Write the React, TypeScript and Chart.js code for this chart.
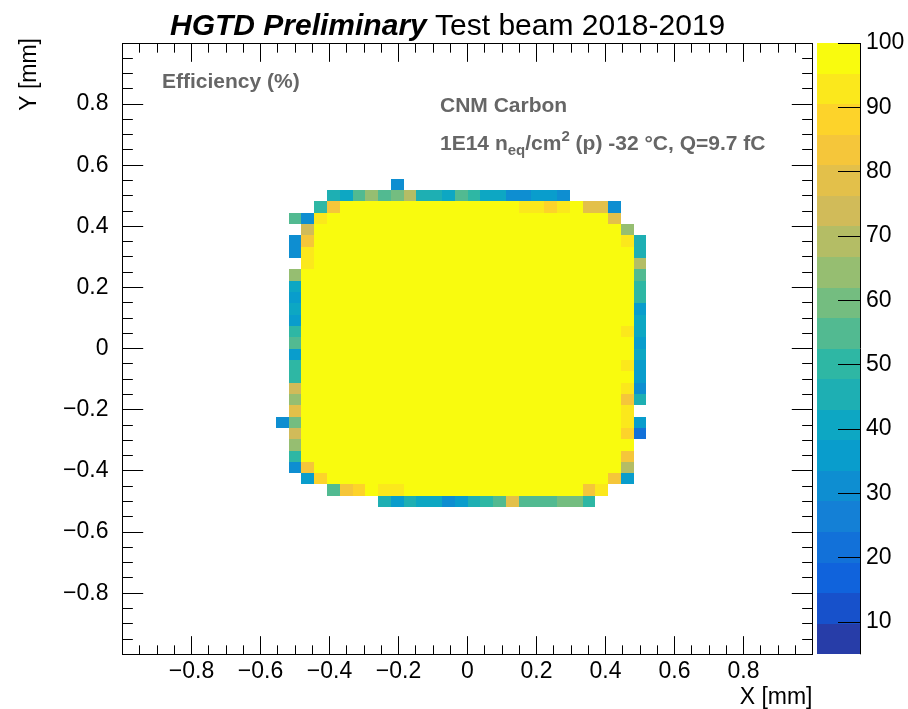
import React, { useEffect, useRef } from 'react';
import { Chart, registerables } from 'chart.js';

Chart.register(...registerables);

const FONT = "'Liberation Sans', Arial, Helvetica, sans-serif";

// ---- axes / binning ----
const AXIS_MIN = -1;
const AXIS_MAX = 1;
const N_BINS = 54; // 54 bins over [-1, 1] mm on both axes
const FIRST_COL_BIN = 12; // bin index of the left-most drawn column
const TOP_ROW_BIN = 41; // bin index of the top-most drawn row
const AXIS_TICK_VALUES = [-0.8, -0.6, -0.4, -0.2, 0, 0.2, 0.4, 0.6, 0.8];

// ---- colour (z) axis ----
const Z_MIN = 5;
const Z_MAX = 100;
const N_CONTOURS = 20;
const Z_TICK_VALUES = [10, 20, 30, 40, 50, 60, 70, 80, 90, 100];

// ---- texts ----
const TITLE_BOLD = 'HGTD Preliminary';
const TITLE_REST = 'Test beam 2018-2019';
const X_TITLE = 'X [mm]';
const Y_TITLE = 'Y [mm]';
const LABEL_EFF = 'Efficiency (%)';
const LABEL_SENSOR = 'CNM Carbon';

// ---- efficiency (%) per bin, rows top (y high) -> bottom, columns left -> right; 0 = empty ----
const EFFICIENCY_ROWS: number[][] = [
  [0,0,0,0,0,0,0,0,0,33,0,0,0,0,0,0,0,0,0,0,0,0,0,0,0,0,0,0,0],
  [0,0,0,0,45,40,55,65,55,60,70,43,43,40,55,48,40,40,33,32,36,36,33,0,0,0,0,0,0],
  [0,0,0,50,83,99,99,99,99,99,99,99,99,99,99,99,99,99,99,92,92,88,92,99,78,78,32,0,0],
  [0,55,32,92,99,99,99,99,99,99,99,99,99,99,99,99,99,99,99,99,99,99,99,99,99,99,78,0,0],
  [0,0,75,99,99,99,99,99,99,99,99,99,99,99,99,99,99,99,99,99,99,99,99,99,99,99,99,65,0],
  [0,32,85,99,99,99,99,99,99,99,99,99,99,99,99,99,99,99,99,99,99,99,99,99,99,99,99,92,43],
  [0,33,92,99,99,99,99,99,99,99,99,99,99,99,99,99,99,99,99,99,99,99,99,99,99,99,99,99,43],
  [0,0,92,99,99,99,99,99,99,99,99,99,99,99,99,99,99,99,99,99,99,99,99,99,99,99,99,99,70],
  [0,65,99,99,99,99,99,99,99,99,99,99,99,99,99,99,99,99,99,99,99,99,99,99,99,99,99,99,55],
  [0,40,99,99,99,99,99,99,99,99,99,99,99,99,99,99,99,99,99,99,99,99,99,99,99,99,99,99,50],
  [0,35,99,99,99,99,99,99,99,99,99,99,99,99,99,99,99,99,99,99,99,99,99,99,99,99,99,99,50],
  [0,42,99,99,99,99,99,99,99,99,99,99,99,99,99,99,99,99,99,99,99,99,99,99,99,99,99,99,36],
  [0,38,99,99,99,99,99,99,99,99,99,99,99,99,99,99,99,99,99,99,99,99,99,99,99,99,99,99,42],
  [0,50,99,99,99,99,99,99,99,99,99,99,99,99,99,99,99,99,99,99,99,99,99,99,99,99,99,92,40],
  [0,57,99,99,99,99,99,99,99,99,99,99,99,99,99,99,99,99,99,99,99,99,99,99,99,99,99,99,35],
  [0,38,99,99,99,99,99,99,99,99,99,99,99,99,99,99,99,99,99,99,99,99,99,99,99,99,99,99,40],
  [0,50,99,99,99,99,99,99,99,99,99,99,99,99,99,99,99,99,99,99,99,99,99,99,99,99,99,92,37],
  [0,50,99,99,99,99,99,99,99,99,99,99,99,99,99,99,99,99,99,99,99,99,99,99,99,99,99,99,37],
  [0,75,99,99,99,99,99,99,99,99,99,99,99,99,99,99,99,99,99,99,99,99,99,99,99,99,99,92,30],
  [0,65,99,99,99,99,99,99,99,99,99,99,99,99,99,99,99,99,99,99,99,99,99,99,99,99,99,85,43],
  [0,80,99,99,99,99,99,99,99,99,99,99,99,99,99,99,99,99,99,99,99,99,99,99,99,99,99,92,0],
  [32,60,99,99,99,99,99,99,99,99,99,99,99,99,99,99,99,99,99,99,99,99,99,99,99,99,99,92,35],
  [0,75,99,99,99,99,99,99,99,99,99,99,99,99,99,99,99,99,99,99,99,99,99,99,99,99,99,90,22],
  [0,65,99,99,99,99,99,99,99,99,99,99,99,99,99,99,99,99,99,99,99,99,99,99,99,99,99,99,0],
  [0,50,99,99,99,99,99,99,99,99,99,99,99,99,99,99,99,99,99,99,99,99,99,99,99,99,99,85,0],
  [0,30,85,99,99,99,99,99,99,99,99,99,99,99,99,99,99,99,99,99,99,99,99,99,99,99,99,70,0],
  [0,0,37,90,99,99,99,99,99,99,99,99,99,99,99,99,99,99,99,99,99,99,99,99,99,99,85,38,0],
  [0,0,0,0,55,85,90,99,93,93,99,99,99,99,99,99,99,99,99,99,99,99,99,99,85,92,0,0,0],
  [0,0,0,0,0,0,0,0,45,35,43,40,40,32,35,45,50,55,80,55,55,55,60,60,50,0,0,0,0],
];

// ---- kBird palette (ROOT palette 57) ----
const BIRD_STOPS = [0.0, 0.125, 0.25, 0.375, 0.5, 0.625, 0.75, 0.875, 1.0];
const BIRD_RED = [0.2082, 0.0592, 0.078, 0.0232, 0.1802, 0.5301, 0.8186, 0.9956, 0.9764];
const BIRD_GREEN = [0.1664, 0.3599, 0.5041, 0.6419, 0.7178, 0.7492, 0.7328, 0.7862, 0.9832];
const BIRD_BLUE = [0.5293, 0.8684, 0.8385, 0.7914, 0.6425, 0.4662, 0.3499, 0.1968, 0.0539];

function birdColor(t: number): string {
  const tt = Math.max(0, Math.min(1, t));
  let s = 1;
  while (s < BIRD_STOPS.length - 1 && BIRD_STOPS[s] < tt) s++;
  const f = (tt - BIRD_STOPS[s - 1]) / (BIRD_STOPS[s] - BIRD_STOPS[s - 1]);
  const mix = (a: number[]) => Math.round(255 * (a[s - 1] + (a[s] - a[s - 1]) * f));
  return `rgb(${mix(BIRD_RED)},${mix(BIRD_GREEN)},${mix(BIRD_BLUE)})`;
}

function contourColor(v: number): string {
  const dz = (Z_MAX - Z_MIN) / N_CONTOURS;
  const k = Math.max(0, Math.min(N_CONTOURS - 1, Math.floor((v - Z_MIN) / dz)));
  const nColors = 255;
  const idx = Math.floor(((k + 0.99) * nColors) / N_CONTOURS);
  return birdColor(idx / (nColors - 1));
}

const BIN_WIDTH = (AXIS_MAX - AXIS_MIN) / N_BINS;
const binEdge = (k: number) => AXIS_MIN + k * BIN_WIDTH;

type Cell = { x: number; y: number; v: number; bx: number; by: number };

function buildCells(): Cell[] {
  const cells: Cell[] = [];
  EFFICIENCY_ROWS.forEach((row, r) => {
    row.forEach((v, i) => {
      if (v < Z_MIN) return;
      const bx = FIRST_COL_BIN + i;
      const by = TOP_ROW_BIN - r;
      cells.push({ x: binEdge(bx + 0.5), y: binEdge(by + 0.5), v, bx, by });
    });
  });
  return cells;
}

const fmtTick = (v: number) => {
  if (Math.abs(v) < 1e-9) return '0';
  return (v < 0 ? '\u2212' : '') + Math.abs(v).toFixed(1);
};

const heatmapPlugin = {
  id: 'heatmapCells',
  beforeDatasetsDraw(chart: any) {
    const { ctx, chartArea } = chart;
    const xs = chart.scales.x;
    const ys = chart.scales.y;
    const data = chart.data.datasets[0].data as Cell[];
    ctx.save();
    ctx.beginPath();
    ctx.rect(chartArea.left, chartArea.top, chartArea.width, chartArea.height);
    ctx.clip();
    for (const c of data) {
      const x0 = Math.round(xs.getPixelForValue(binEdge(c.bx)));
      const x1 = Math.round(xs.getPixelForValue(binEdge(c.bx + 1)));
      const y0 = Math.round(ys.getPixelForValue(binEdge(c.by + 1)));
      const y1 = Math.round(ys.getPixelForValue(binEdge(c.by)));
      ctx.fillStyle = contourColor(c.v);
      ctx.fillRect(x0, y0, x1 - x0, y1 - y0);
    }
    ctx.restore();
  },
};

const snap = (v: number) => Math.floor(v) + 0.5;

const framePlugin = {
  id: 'rootFrame',
  afterDatasetsDraw(chart: any) {
    const { ctx, chartArea } = chart;
    const xs = chart.scales.x;
    const ys = chart.scales.y;
    const L = snap(chartArea.left);
    const R = snap(chartArea.right);
    const T = snap(chartArea.top);
    const B = snap(chartArea.bottom);
    ctx.save();
    ctx.strokeStyle = '#000';
    ctx.lineWidth = 1;
    ctx.strokeRect(L, T, R - L, B - T);
    const xMaj = 0.03 * chartArea.height;
    const yMaj = 0.03 * chartArea.width;
    ctx.beginPath();
    for (let n = 0; n <= 40; n++) {
      const v = AXIS_MIN + n * 0.05;
      const major = n % 4 === 0;
      const px = snap(xs.getPixelForValue(v));
      const lx = major ? xMaj : xMaj / 2;
      ctx.moveTo(px, B);
      ctx.lineTo(px, B - lx);
      ctx.moveTo(px, T);
      ctx.lineTo(px, T + lx);
      const py = snap(ys.getPixelForValue(v));
      const ly = major ? yMaj : yMaj / 2;
      ctx.moveTo(L, py);
      ctx.lineTo(L + ly, py);
      ctx.moveTo(R, py);
      ctx.lineTo(R - ly, py);
    }
    ctx.stroke();
    ctx.restore();
  },
};

const decorPlugin = {
  id: 'rootDecor',
  afterDraw(chart: any) {
    const { ctx, chartArea } = chart;
    const zs = chart.scales.z;
    ctx.save();

    // ---- colour bar ----
    const bx0 = Math.round(chartArea.right + 4);
    const bx1 = Math.round(chartArea.right + 47);
    const dz = (Z_MAX - Z_MIN) / N_CONTOURS;
    for (let k = 0; k < N_CONTOURS; k++) {
      const yTop = Math.round(zs.getPixelForValue(Z_MIN + (k + 1) * dz));
      const yBot = Math.round(zs.getPixelForValue(Z_MIN + k * dz));
      ctx.fillStyle = contourColor(Z_MIN + (k + 0.5) * dz);
      ctx.fillRect(bx0, yTop, bx1 - bx0, yBot - yTop);
    }
    ctx.strokeStyle = '#000';
    ctx.lineWidth = 1;
    ctx.beginPath();
    ctx.moveTo(bx1 + 0.5, zs.getPixelForValue(Z_MAX));
    ctx.lineTo(bx1 + 0.5, zs.getPixelForValue(Z_MIN));
    for (const t of Z_TICK_VALUES) {
      const py = snap(zs.getPixelForValue(t));
      ctx.moveTo(bx1 + 0.5, py);
      ctx.lineTo(bx1 - 22, py);
    }
    ctx.stroke();
    ctx.fillStyle = '#000';
    ctx.font = `23px ${FONT}`;
    ctx.textAlign = 'left';
    ctx.textBaseline = 'middle';
    for (const t of Z_TICK_VALUES) {
      ctx.fillText(String(t), bx1 + 6, zs.getPixelForValue(t));
    }

    // ---- title ----
    ctx.textBaseline = 'alphabetic';
    ctx.textAlign = 'left';
    ctx.fillStyle = '#000';
    ctx.font = `italic bold 30px ${FONT}`;
    const tx = 170;
    ctx.fillText(TITLE_BOLD, tx, 35);
    const w1 = ctx.measureText(TITLE_BOLD + ' ').width;
    ctx.font = `30px ${FONT}`;
    ctx.fillText(TITLE_REST, tx + w1, 35);

    // ---- axis titles ----
    ctx.font = `23px ${FONT}`;
    ctx.textAlign = 'right';
    ctx.fillText(X_TITLE, chartArea.right, 704);
    ctx.save();
    ctx.translate(36, 38);
    ctx.rotate(-Math.PI / 2);
    ctx.textAlign = 'right';
    ctx.fillText(Y_TITLE, 0, 0);
    ctx.restore();

    // ---- annotations ----
    ctx.fillStyle = '#666666';
    ctx.textAlign = 'left';
    ctx.font = `bold 21px ${FONT}`;
    ctx.fillText(LABEL_EFF, 162, 88);
    ctx.fillText(LABEL_SENSOR, 440, 112);
    const parts: [string, number, number][] = [
      ['1E14 n', 21, 0],
      ['eq', 15, 5],
      ['/cm', 21, 0],
      ['2', 15, -9],
      [' (p) -32 \u00B0C, Q=9.7 fC', 21, 0],
    ];
    let x = 440;
    const base = 150;
    for (const [txt, size, dy] of parts) {
      ctx.font = `bold ${size}px ${FONT}`;
      ctx.fillText(txt, x, base + dy);
      x += ctx.measureText(txt).width;
    }
    ctx.restore();
  },
};

export default function App() {
  const canvasRef = useRef<HTMLCanvasElement | null>(null);

  useEffect(() => {
    const canvas = canvasRef.current;
    if (!canvas) return;
    const tickFont = { family: FONT, size: 23 };
    const chart = new Chart(canvas, {
      type: 'scatter',
      data: {
        datasets: [
          {
            data: buildCells() as any,
            pointRadius: 0,
            pointHoverRadius: 0,
            showLine: false,
          },
        ],
      },
      options: {
        animation: false,
        responsive: false,
        events: [],
        devicePixelRatio: 1,
        layout: { padding: { left: 0, top: 43, right: 95.5, bottom: 0 } },
        plugins: {
          legend: { display: false },
          tooltip: { enabled: false },
          title: { display: false },
        },
        scales: {
          x: {
            type: 'linear',
            position: 'bottom',
            min: AXIS_MIN,
            max: AXIS_MAX,
            grid: { display: false, drawTicks: false, tickLength: 0 },
            border: { display: false },
            afterBuildTicks: (s: any) => {
              s.ticks = AXIS_TICK_VALUES.map((value) => ({ value }));
            },
            ticks: {
              autoSkip: false,
              maxRotation: 0,
              minRotation: 0,
              padding: 4,
              color: '#000',
              font: tickFont,
              callback: (v: any) => fmtTick(Number(v)),
            },
            afterFit: (s: any) => {
              s.height = 54.7;
            },
          },
          y: {
            type: 'linear',
            position: 'left',
            min: AXIS_MIN,
            max: AXIS_MAX,
            grid: { display: false, drawTicks: false, tickLength: 0 },
            border: { display: false },
            afterBuildTicks: (s: any) => {
              s.ticks = AXIS_TICK_VALUES.map((value) => ({ value }));
            },
            ticks: {
              autoSkip: false,
              padding: 14,
              color: '#000',
              font: tickFont,
              callback: (v: any) => fmtTick(Number(v)),
            },
            afterFit: (s: any) => {
              s.width = 122.5;
            },
          },
          z: {
            type: 'linear',
            position: 'right',
            display: false,
            min: Z_MIN,
            max: Z_MAX,
          },
        },
      } as any,
      plugins: [heatmapPlugin, framePlugin, decorPlugin],
    });
    return () => chart.destroy();
  }, []);

  return (
    <div style={{ position: 'fixed', left: 0, top: 0, width: 908, height: 709, background: '#fff' }}>
      <canvas ref={canvasRef} width={908} height={709} style={{ display: 'block' }} />
    </div>
  );
}
